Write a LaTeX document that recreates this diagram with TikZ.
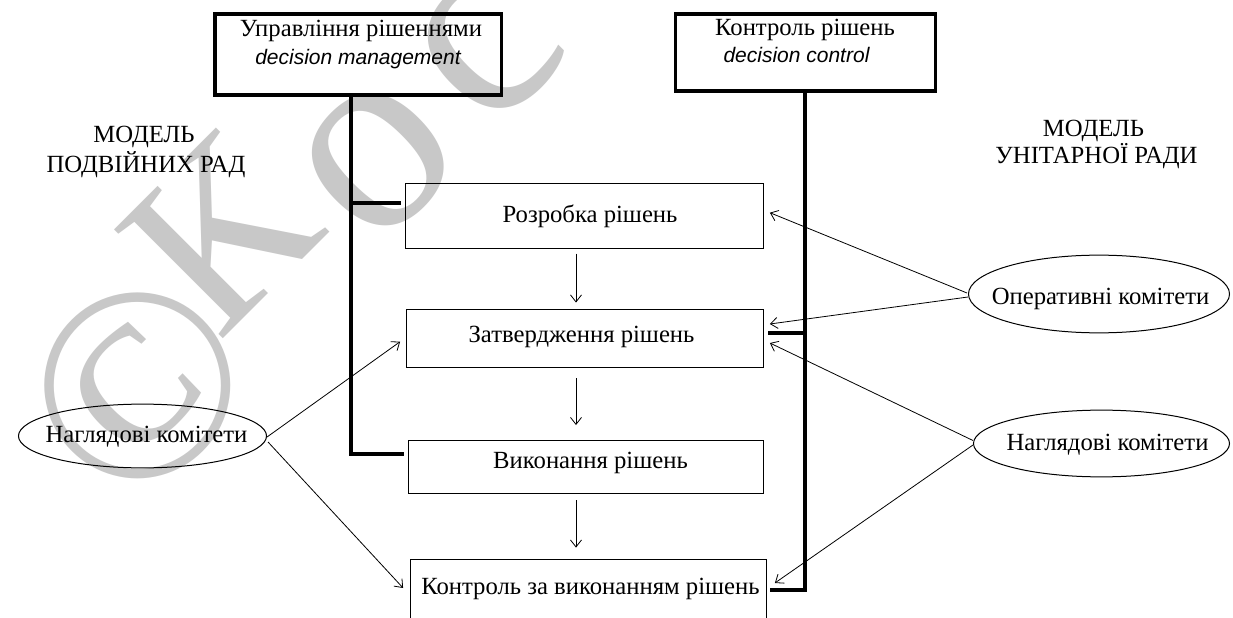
\documentclass[tikz,border=0pt]{standalone}
\usepackage{fontspec}
\setmainfont{Liberation Serif}
\newfontfamily\engfont{Liberation Sans}
\usetikzlibrary{arrows.meta,shapes.geometric,calc}
\definecolor{wmgray}{RGB}{200,200,200}
\begin{document}
\begin{tikzpicture}[x=1bp,y=-1bp,
  txt/.style={inner sep=0, anchor=base, font=\fontsize{24.7bp}{30bp}\selectfont},
  engl/.style={inner sep=0, anchor=base, font=\engfont\itshape\fontsize{21bp}{25bp}\selectfont},
  headbox/.style={draw, line width=3.5bp, inner sep=0},
  stepbox/.style={draw, line width=1.1bp, inner sep=0},
  oval/.style={draw, ellipse, line width=1bp, inner sep=0},
  trunk/.style={line width=3.6bp},
  arr/.style={line width=0.8bp, -{Straight Barb[length=7bp,width=11bp]}},
  wm/.style={text=wmgray, inner sep=0, rotate=45, font=\fontsize{275bp}{275bp}\selectfont}]
\clip (0,0) rectangle (1233,618);
\fill[white] (0,0) rectangle (1233,618);

% copyright mark in the background
\node[wm] (wmA) at (138,386) {©};
\node[wm, font=\fontsize{235bp}{235bp}\selectfont] (wmB) at (220,234) {К};
\node[wm] (wmC) at (378,160) {о};
\node[wm] (wmD) at (488,48) {с};

% governing bodies
\node[headbox, minimum width=287.3, minimum height=81.3] (mgmt) at (358.35,54.35) {};
\node[txt] (mgmtA) at (361,37) {Управління рішеннями};
\node[engl] (mgmtB) at (358,65) {decision management};

\node[headbox, minimum width=261, minimum height=77] (ctrl) at (805.5,52.5) {};
\node[txt] (ctrlA) at (805,36) {Контроль рішень};
\node[engl] (ctrlB) at (796.5,63) {decision control};

% model captions
\node[txt] (modLA) at (144,143) {МОДЕЛЬ};
\node[txt] (modLB) at (146,172.7) {ПОДВІЙНИХ РАД};
\node[txt] (modRA) at (1093.5,136.7) {МОДЕЛЬ};
\node[txt] (modRB) at (1096.5,163.5) {УНІТАРНОЇ РАДИ};

% decision process stages
\node[stepbox, minimum width=360, minimum height=65] (dev) at (584.5,215.7) {};
\node[txt] (devT) at (590,222.7) {Розробка рішень};
\node[stepbox, minimum width=359, minimum height=57.7] (appr) at (585,338.35) {};
\node[txt] (apprT) at (581.5,343) {Затвердження рішень};
\node[stepbox, minimum width=356.3, minimum height=53] (exec) at (586.35,467) {};
\node[txt] (execT) at (590.5,468) {Виконання рішень};
\node[stepbox, minimum width=358, minimum height=80] (ctl) at (588.5,599.5) {};
\node[txt] (ctlT) at (590.5,594) {Контроль за виконанням рішень};

% committees
\node[oval, minimum width=262, minimum height=78] (opc) at (1099,294) {};
\node[txt] (opcT) at (1100.5,305) {Оперативні комітети};
\node[oval, minimum width=257, minimum height=67] (supR) at (1101.5,443.5) {};
\node[txt] (supRT) at (1107.5,450) {Наглядові комітети};
\node[oval, minimum width=249, minimum height=64] (supL) at (142.5,436) {};
\node[txt] (supLT) at (146.5,442) {Наглядові комітети};

% thick trunks from the governing bodies
\coordinate (lx) at (351,0);
\coordinate (rx) at (805,0);
\coordinate (lhi) at (0,203);
\coordinate (llo) at (0,454);
\coordinate (rmid) at (0,333);
\coordinate (rlo) at (0,590);
\draw[trunk] (mgmt.south -| lx) -- (lx |- llo) -- ($(exec.west |- llo)+(-4.5,0)$);
\draw[trunk] (lx |- lhi) -- ($(dev.west |- lhi)+(-4,0)$);
\draw[trunk] (ctrl.south -| rx) -- (rx |- rlo) -- ($(ctl.east |- rlo)+(2.5,0)$);
\draw[trunk] (rx |- rmid) -- ($(appr.east |- rmid)+(3.5,0)$);

% sequence of stages
\coordinate (ax) at (576,0);
\draw[arr, shorten <=5bp, shorten >=6.5bp] (dev.south -| ax) -- (appr.north -| ax);
\draw[arr, shorten <=10.8bp, shorten >=15bp] (appr.south -| ax) -- (exec.north -| ax);
\draw[arr, shorten <=6.5bp, shorten >=11.5bp] (exec.south -| ax) -- (ctl.north -| ax);

% committee links
\draw[arr] ($(opc.west)+(-1,-1)$) -- ($(dev.east)+(5.5,-3)$);
\draw[arr] ($(opc.west)+(0,3)$) -- ($(appr.east)+(5.5,-14.35)$);
\draw[arr] ($(supR.west)+(0,-3)$) -- ($(appr.east)+(5.5,4.65)$);
\draw[arr] ($(supR.west)+(0,1.5)$) -- ($(ctl.east)+(7.5,-16.5)$);
\draw[arr] ($(supL.east)+(0,1)$) -- ($(appr.west)+(-5.5,3.35)$);
\draw[arr] ($(supL.east)+(1,6)$) -- ($(ctl.west)+(-6.5,-11.5)$);
\end{tikzpicture}
\end{document}
